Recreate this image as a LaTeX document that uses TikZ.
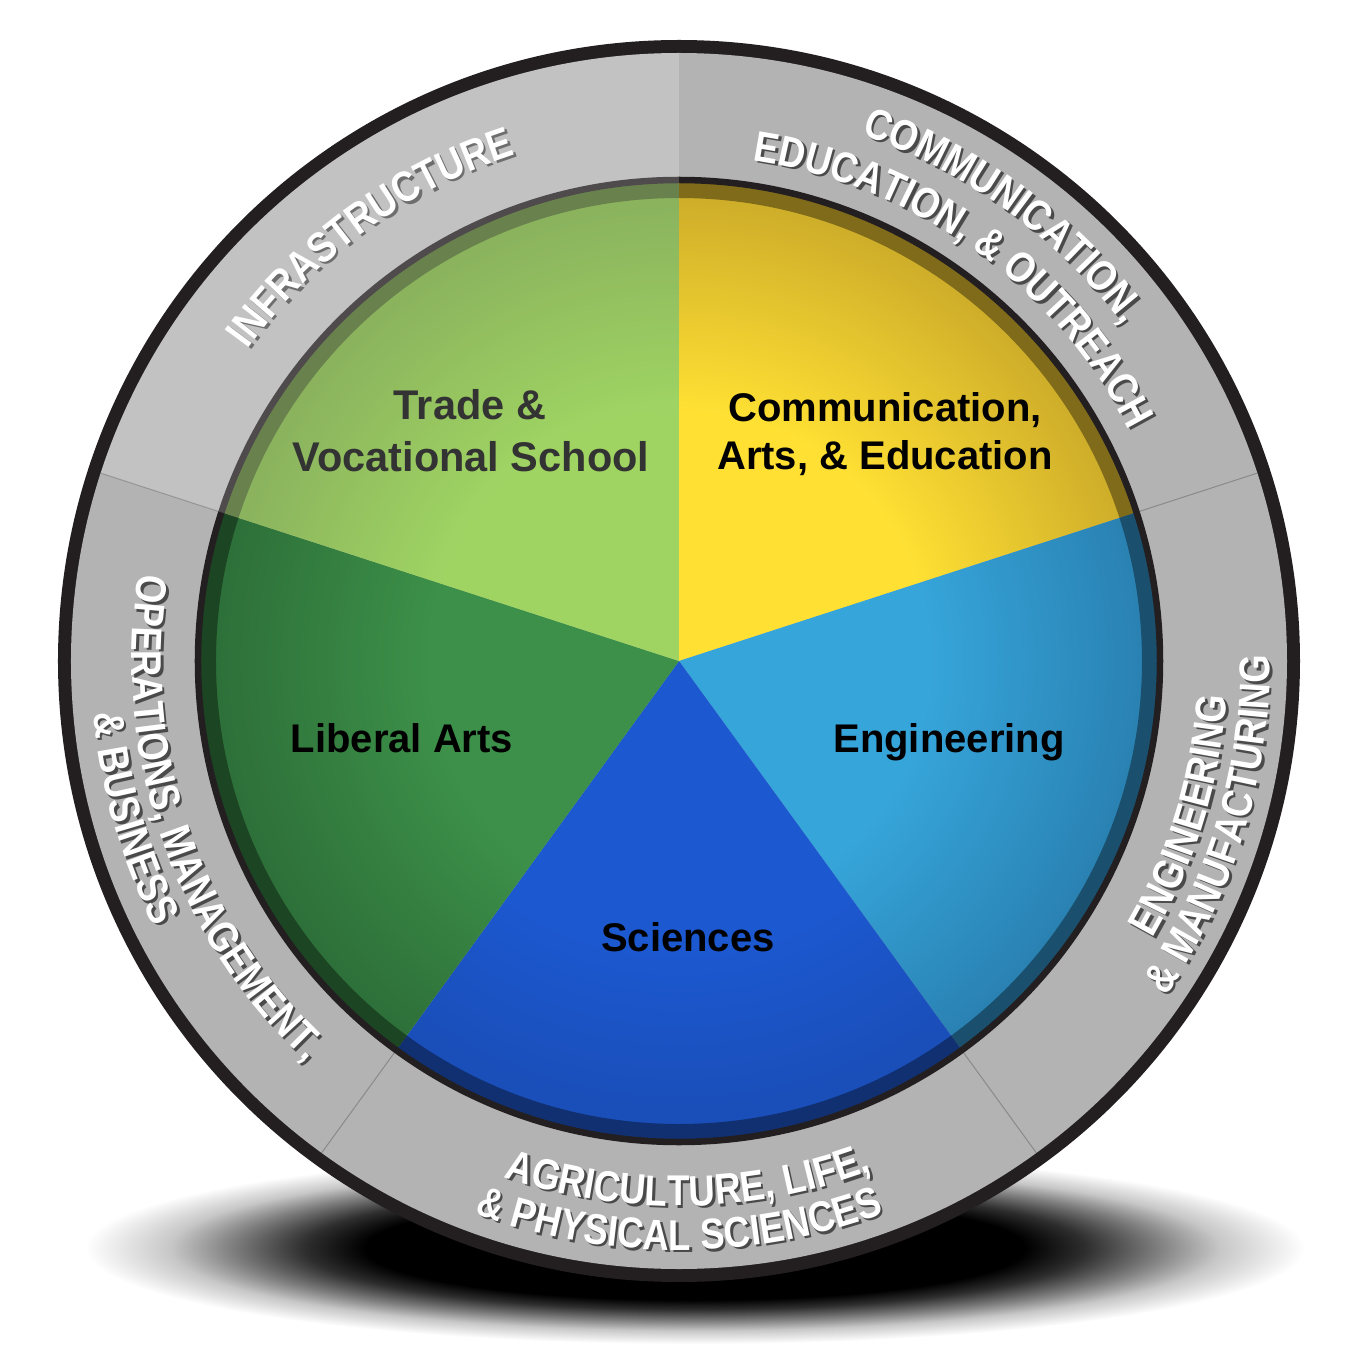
\documentclass[tikz,border=0pt]{standalone}
\usepackage{fontspec}
\setmainfont{Liberation Sans}
\newfontfamily\ringfont{Liberation Sans}[FakeStretch=0.85]
\usetikzlibrary{decorations.text}
\definecolor{rimblack}{HTML}{231F20}
\definecolor{ringgray}{HTML}{B3B3B3}
\definecolor{divgray}{HTML}{8A8A8A}
\definecolor{shadowgray}{HTML}{4A4A4A}
\definecolor{yelC}{HTML}{FFE033}
\definecolor{yelD}{HTML}{CFAE2A}
\definecolor{lbC}{HTML}{36A5DA}
\definecolor{lbD}{HTML}{2A82B3}
\definecolor{blC}{HTML}{1C58D0}
\definecolor{blD}{HTML}{1A4EB8}
\definecolor{dgC}{HTML}{3C9049}
\definecolor{dgD}{HTML}{2E7039}
\definecolor{lgC}{HTML}{88CA3C}
\definecolor{lgD}{HTML}{6EA036}
\pgfdeclareradialshading{yelsh}{\pgfpointorigin}{color(0bp)=(yelC); color(13bp)=(yelC); color(24bp)=(yelD); color(50bp)=(yelD)}
\pgfdeclareradialshading{lbsh}{\pgfpointorigin}{color(0bp)=(lbC); color(13bp)=(lbC); color(24bp)=(lbD); color(50bp)=(lbD)}
\pgfdeclareradialshading{blsh}{\pgfpointorigin}{color(0bp)=(blC); color(15bp)=(blC); color(24bp)=(blD); color(50bp)=(blD)}
\pgfdeclareradialshading{dgsh}{\pgfpointorigin}{color(0bp)=(dgC); color(13bp)=(dgC); color(24bp)=(dgD); color(50bp)=(dgD)}
\pgfdeclareradialshading{lgsh}{\pgfpointorigin}{color(0bp)=(lgC); color(13bp)=(lgC); color(24bp)=(lgD); color(50bp)=(lgD)}
\pgfdeclareradialshading{shadowsh}{\pgfpointorigin}{color(0bp)=(black); color(13.5bp)=(black); color(16bp)=(black!82!white); color(19bp)=(black!50!white); color(21.5bp)=(black!22!white); color(25bp)=(white); color(50bp)=(white)}
\newcommand\pieslice[3]{%
  \begin{scope}
    \clip (0,0) -- (#1:481pt) arc[start angle=#1, end angle=#2, radius=481pt] -- cycle;
    \shade[shading=#3] (0,0) circle[radius=480pt];
  \end{scope}}
\newcommand\ringlabel[4]{%
  \path[decorate, decoration={text along path, text align=center, text color=shadowgray,
    text={|\ringfont\bfseries\fontsize{43}{43}\selectfont|#4}}]
    ([shift={(2.5,-2.5)}]#2:#1) arc[start angle=#2, end angle=#3, radius=#1];
  \path[decorate, decoration={text along path, text align=center, text color=white,
    text={|\ringfont\bfseries\fontsize{43}{43}\selectfont|#4}}]
    (#2:#1) arc[start angle=#2, end angle=#3, radius=#1];}
\begin{document}
\begin{tikzpicture}[x=1pt,y=1pt,
  pielabel/.style={anchor=base, font=\bfseries\fontsize{40}{48}\selectfont, text=black, inner sep=0pt}]
\fill[white] (-679,-702) rectangle (671,661);
\useasboundingbox (-679,-702) rectangle (671,661);
% cast shadow
\shade[shading=shadowsh] (16,-587) ellipse[x radius=610, y radius=96];
% outer ring
\fill[rimblack] (0,0) circle[radius=621pt];
\fill[ringgray] (0,0) circle[radius=608pt];
\foreach \a in {18,-54,-126,162}
  \draw[divgray, line width=1pt] (\a:484pt) -- (\a:608pt);
% pie
\pieslice{18}{90}{yelsh}
\pieslice{-54}{18}{lbsh}
\pieslice{-126}{-54}{blsh}
\pieslice{162}{234}{dgsh}
\pieslice{90}{162}{lgsh}
\fill[black, fill opacity=0.38, even odd rule] (0,0) circle[radius=480pt] circle[radius=463pt];
\draw[rimblack, line width=6.5pt] (0,0) circle[radius=481pt];
% pie labels
\node[pielabel, font=\bfseries\fontsize{41.5}{48}\selectfont] (trade1) at (-209,241) {Trade \&};
\node[pielabel, font=\bfseries\fontsize{41.5}{48}\selectfont] (trade2) at (-208,189) {Vocational School};
\node[pielabel] (comm1) at (206,239) {Communication,};
\node[pielabel] (comm2) at (206,191) {Arts, \& Education};
\node[pielabel] (libarts) at (-277,-91) {Liberal Arts};
\node[pielabel] (eng) at (270,-91) {Engineering};
\node[pielabel] (sci) at (9,-290) {Sciences};
% ring labels
\ringlabel{532pt}{162}{90}{INFRASTRUCTURE}
\ringlabel{557pt}{90}{18}{COMMUNICATION,}
\ringlabel{506pt}{90.4}{18.4}{EDUCATION, {\&} OUTREACH}
\ringlabel{549pt}{-53}{19}{ENGINEERING}
\ringlabel{591pt}{-53}{19}{{\&} MANUFACTURING}
\ringlabel{545pt}{-125}{-53}{AGRICULTURE, LIFE,}
\ringlabel{589pt}{-126}{-54}{{\&} PHYSICAL SCIENCES}
\ringlabel{547pt}{163}{235}{OPERATIONS, MANAGEMENT,}
\ringlabel{588pt}{160}{232}{{\&} BUSINESS}
% highlight over the top-left sector
\fill[white, fill opacity=0.2] (0,0) -- (90:608pt) arc[start angle=90, end angle=162, radius=608pt] -- cycle;
\end{tikzpicture}
\end{document}
